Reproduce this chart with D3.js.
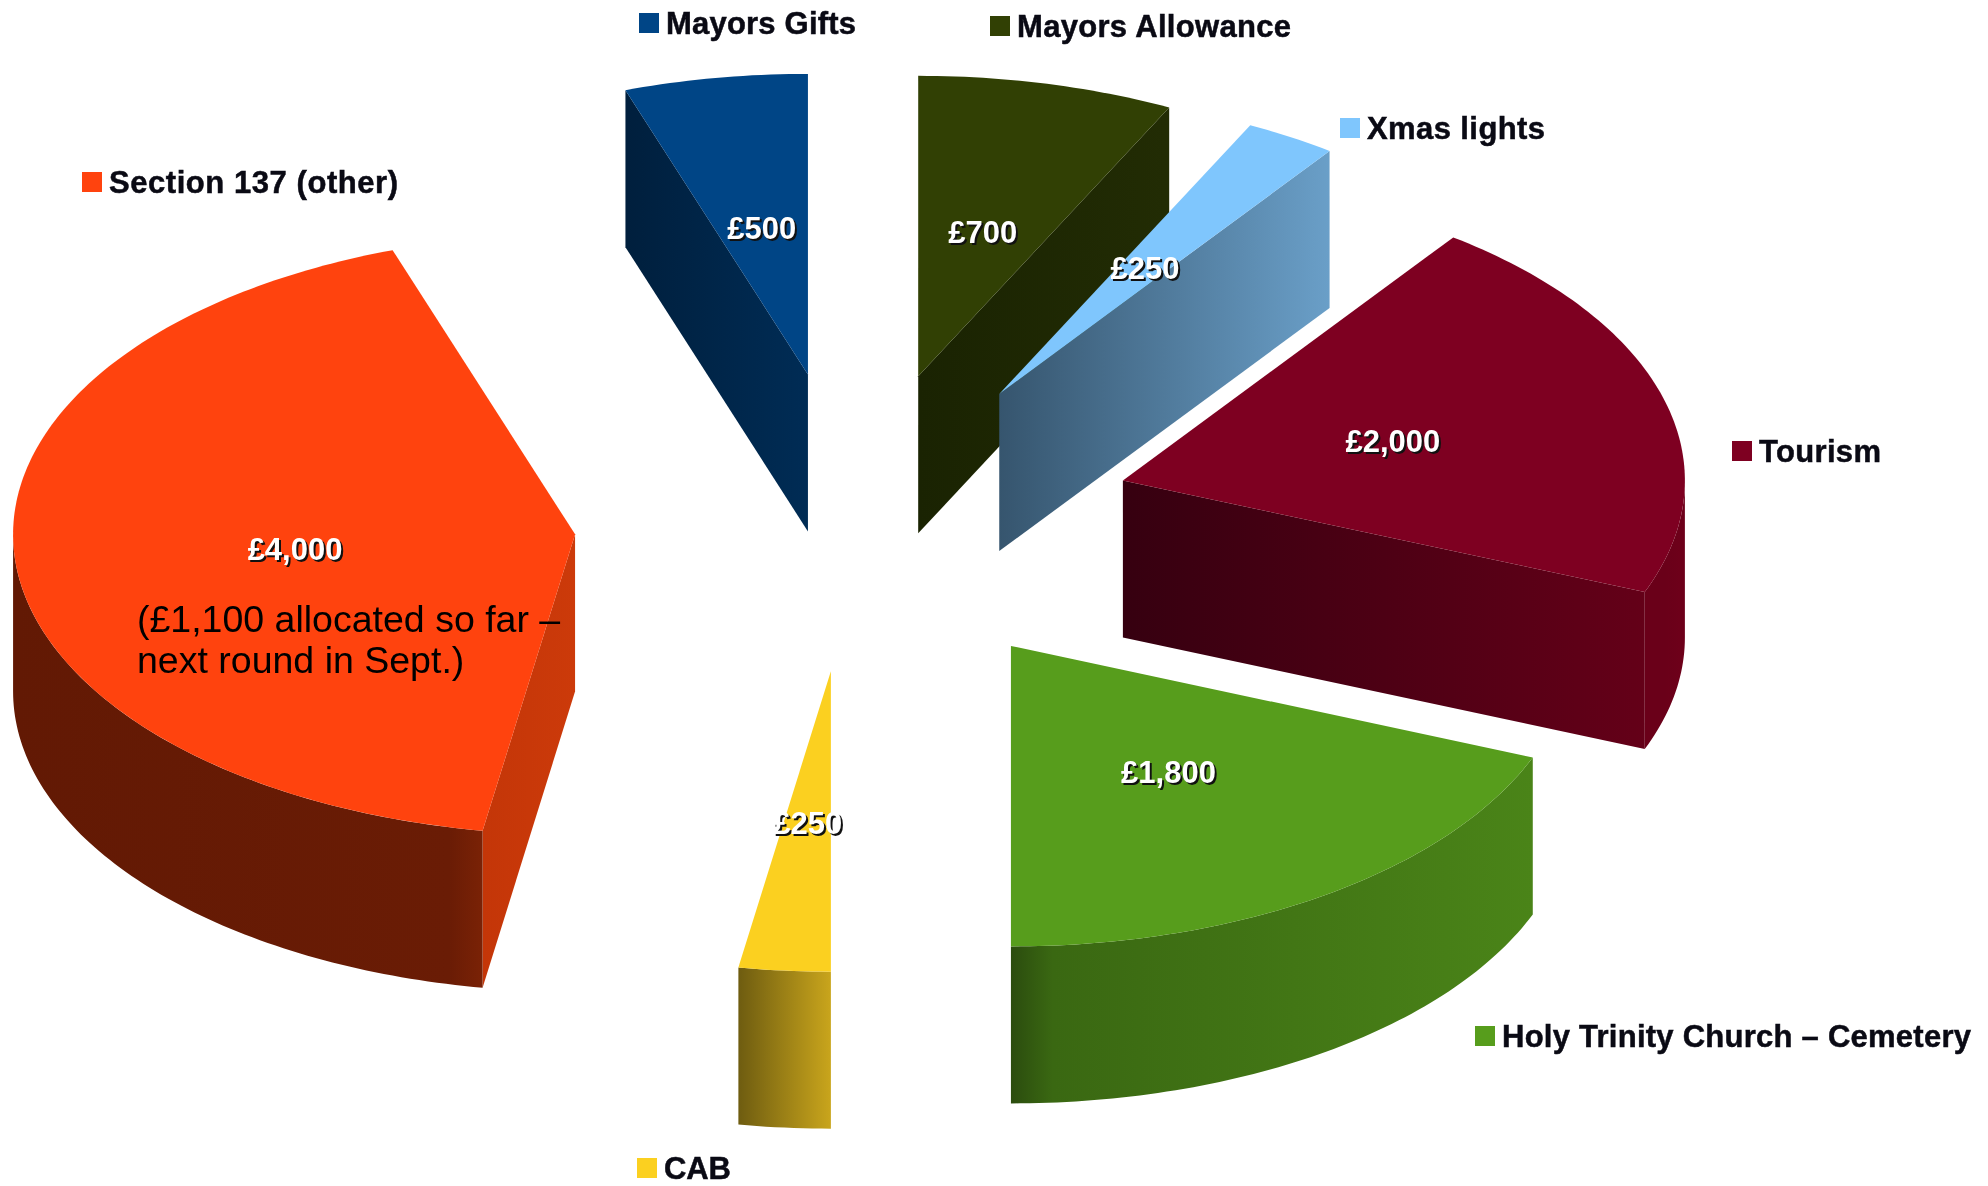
<!DOCTYPE html>
<html>
<head>
<meta charset="utf-8">
<script src="https://cdn.jsdelivr.net/npm/d3@7"></script>
<style>
    html, body { margin: 0; padding: 0; background: #fff; }
    svg { display: block; filter: blur(0.6px); }
    text { font-family: "Liberation Sans", sans-serif; }
</style>
</head>
<body>
<div id="chart"></div>
<script>
// pie order, clockwise from 12 o'clock
var categories = ["Mayors Allowance", "Xmas lights", "Tourism", "Holy Trinity Church \u2013 Cemetery", "CAB", "Section 137 (other)", "Mayors Gifts"];
var values = [700, 250, 2000, 1800, 250, 4000, 500];
var note = ["(\u00a31,100 allocated so far \u2013", "next round in Sept.)"];

var topColors = ["#314004", "#7fc6fd", "#7e0021", "#579d1c", "#fbd020", "#ff430e", "#004586"];
// side faces: gradient stops left to right
var cutColors = [["#1a2302", "#222c04"], ["#36556e", "#6a9fc8"], ["#360010", "#640018"], ["#2e5210", "#437a16"], ["#6e5c10", "#c9a51c"], ["#c43608", "#cc3a0a"], ["#001f3d", "#002c55"]];
var rimColors = [["#1a2302", "#222c04"], ["#36556e", "#6a9fc8"], ["#6a0019", "#6a0019", "#6e001a"], ["#2b4c0e", "#3a6812", "#4a8418"], ["#6e5c10", "#c9a51c"], ["#621904", "#6a1c05", "#7a2206"], ["#001f3d", "#002c55"]];
var rimKnee = [0.5, 0.5, 0.5, 0.08, 0.5, 0.93, 0.5];

var legendPos = [
    {x: 990, y: 16}, {x: 1340, y: 118}, {x: 1732, y: 441}, {x: 1475, y: 1026},
    {x: 637, y: 1158}, {x: 82, y: 172}, {x: 639, y: 13}
];
var legendWidth = [274, 178, 122, 469, 67, 289, 190];

function plotPie(containerId) {
    var WIDTH = 1988;
    var HEIGHT = 1186;
    var EXPLODE = 0.498;
    var DEPTH = 157;

    var viz = d3.select("#" + containerId).append("svg")
        .attr("width", WIDTH)
        .attr("height", HEIGHT);
    var defs = viz.append("defs");

    // flattened circle: unit pie coordinates to pixels
    var xScale = d3.scaleLinear().domain([-1, 1]).range([854 - 562, 854 + 562]);
    var yScale = d3.scaleLinear().domain([-1, 1]).range([522 + 300.5, 522 - 300.5]);

    var pie = d3.pie().sort(null).value(function(d) { return d; });
    var slices = pie(values).map(function(d, i) {
        var mid = (d.startAngle + d.endAngle) / 2;
        return {
            i: i,
            a0: d.startAngle,
            a1: d.endAngle,
            mid: mid,
            ox: EXPLODE * Math.sin(mid),
            oy: EXPLODE * Math.cos(mid)
        };
    });

    function px(s, a, r) { return xScale(s.ox + r * Math.sin(a)); }
    function py(s, a, r) { return yScale(s.oy + r * Math.cos(a)); }

    function arcPoints(s, a0, a1, dy) {
        var n = Math.max(2, Math.ceil((a1 - a0) * 60));
        return d3.range(n + 1).map(function(k) {
            var a = a0 + (a1 - a0) * k / n;
            return [px(s, a, 1), py(s, a, 1) + dy];
        });
    }

    var line = d3.line();

    function gradient(id, stops, knee) {
        var g = defs.append("linearGradient").attr("id", id);
        stops.forEach(function(c, k) {
            var offset = stops.length === 3 && k === 1 ? knee : k / (stops.length - 1);
            g.append("stop")
                .attr("offset", offset)
                .attr("stop-color", c);
        });
        return "url(#" + id + ")";
    }

    // back slices first
    var drawOrder = slices.slice().sort(function(a, b) {
        return (yScale(a.oy)) - (yScale(b.oy));
    });

    drawOrder.forEach(function(s) {
        var g = viz.append("g").attr("class", "slice");
        var cx = xScale(s.ox), cy = yScale(s.oy);

        // cut faces that look at the viewer
        [[s.a0, Math.sin(s.a0) < -1e-6], [s.a1, Math.sin(s.a1) > 1e-6]].forEach(function(f, k) {
            if (!f[1]) return;
            var ex = px(s, f[0], 1), ey = py(s, f[0], 1);
            g.append("path")
                .attr("d", line([[cx, cy], [ex, ey], [ex, ey + DEPTH], [cx, cy + DEPTH]]) + "Z")
                .style("fill", gradient("cut" + s.i + "_" + k, cutColors[s.i]));
        });

        // rim on the front half of the ellipse
        var r0 = Math.max(s.a0, Math.PI / 2), r1 = Math.min(s.a1, 3 * Math.PI / 2);
        if (r1 > r0) {
            var rimTop = arcPoints(s, r0, r1, 0);
            var rimBot = arcPoints(s, r0, r1, DEPTH).reverse();
            g.append("path")
                .attr("d", line(rimTop.concat(rimBot)) + "Z")
                .style("fill", gradient("rim" + s.i, rimColors[s.i], rimKnee[s.i]));
        }

        // top face
        var topPts = [[cx, cy]].concat(arcPoints(s, s.a0, s.a1, 0));
        g.append("path")
            .attr("d", line(topPts) + "Z")
            .style("fill", topColors[s.i]);
    });

    // note on the big slice
    viz.append("g").selectAll("text")
        .data(note)
        .enter().append("text")
        .attr("x", 137)
        .attr("y", function(d, i) { return 632 + i * 41; })
        .style("font-size", "37.5px")
        .style("fill", "#000")
        .text(function(d) { return d; });

    // value labels sit halfway along the slice's middle radius
    var fmt = d3.format(",");
    function valueLabel(dx, dy, colour) {
        viz.append("g").selectAll("text")
            .data(slices)
            .enter().append("text")
            .attr("x", function(s) { return px(s, s.mid, 0.5) + dx; })
            .attr("y", function(s) { return py(s, s.mid, 0.5) + 2.5 + dy; })
            .attr("text-anchor", "middle")
            .attr("dominant-baseline", "central")
            .style("font-size", "31px")
            .style("font-weight", "bold")
            .style("fill", colour)
            .text(function(s) { return "\u00a3" + fmt(values[s.i]); });
    }
    valueLabel(2, 2, "#111");
    valueLabel(0, 0, "#fff");

    // legend
    var legend = viz.append("g").selectAll("g")
        .data(categories)
        .enter().append("g")
        .attr("transform", function(d, i) { return "translate(" + legendPos[i].x + "," + legendPos[i].y + ")"; });
    legend.append("rect")
        .attr("width", 20)
        .attr("height", 20)
        .style("fill", function(d, i) { return topColors[i]; });
    legend.append("text")
        .attr("x", 27)
        .attr("y", 21)
        .attr("textLength", function(d, i) { return legendWidth[i]; })
        .style("font-size", "31px")
        .style("font-weight", "bold")
        .style("fill", "#0a0a14")
        .style("stroke", "#0a0a14")
        .style("stroke-width", "0.5px")
        .text(function(d) { return d; });
}

plotPie("chart");
</script>
</body>
</html>
